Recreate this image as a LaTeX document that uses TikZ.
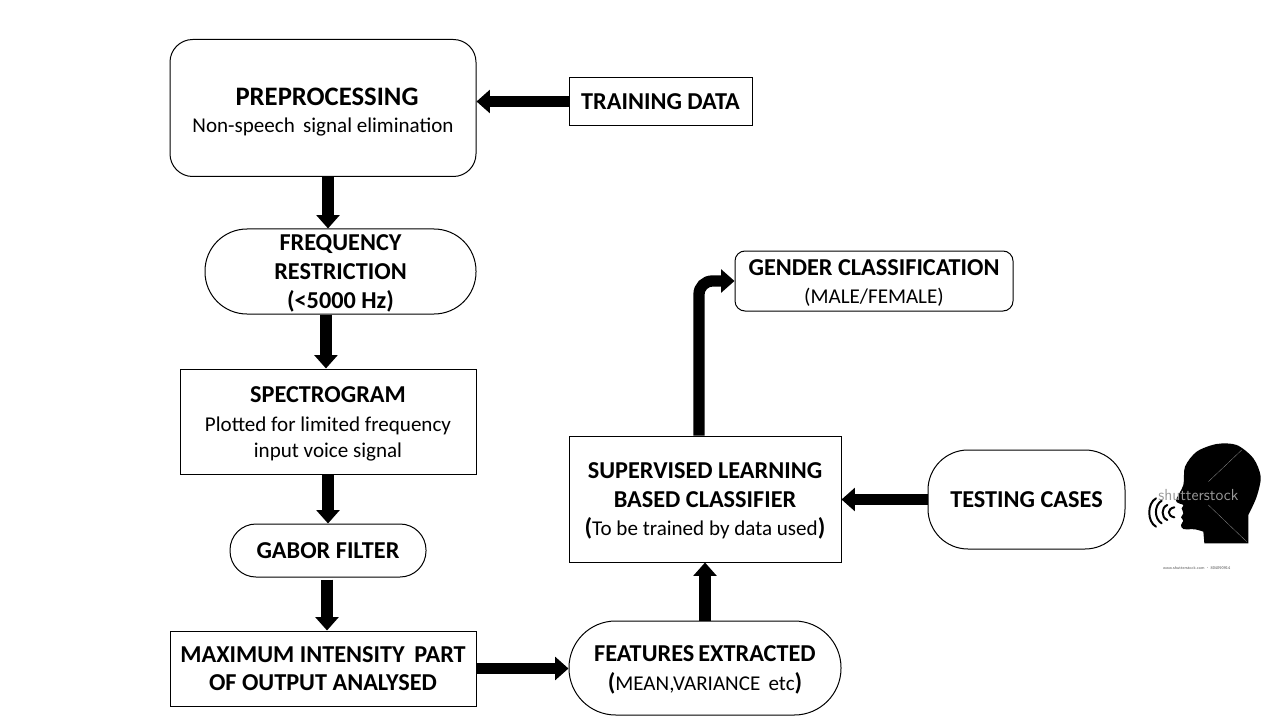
\documentclass[tikz,border=0pt]{standalone}
\usepackage{fontspec}
\setmainfont{Carlito}
\usetikzlibrary{arrows.meta}
\newcommand{\tfont}{\fontsize{18.2}{21.5}\selectfont\bfseries}
\newcommand{\sfont}{\fontsize{15.8}{21.5}\selectfont\mdseries}
\newcommand{\nudge}{\rule{0pt}{15pt}}
\tikzset{
  box/.style={draw, line width=0.75pt, align=center, inner sep=0pt, font=\tfont},
  bigarrow/.style={line width=8.5pt, -{Triangle[length=10pt,width=17pt]}},
  wave/.style={line width=1.5pt, line cap=round},
}
\begin{document}
\begin{tikzpicture}[x=0.75pt,y=-0.75pt]
  \useasboundingbox (0,0) rectangle (1280,720);
  % left column
  \node[box, name=prep, rounded corners=17pt, minimum width=229.5pt, minimum height=102.75pt] at (323,108)
    {\rule{0pt}{19pt}\hspace*{6pt}{\fontsize{20}{21.5}\selectfont PREPROCESSING}\\[-1pt]{\sfont Non-speech\, signal elimination}};
  \node[box, name=train, minimum width=137.25pt, minimum height=36pt] at (660.5,101.5) {TRAINING DATA};
  \node[box, name=freq, rounded corners=31.5pt, minimum width=203.25pt, minimum height=63.75pt] at (340.5,271.5)
    {\nudge FREQUENCY\\RESTRICTION\\(<5000 Hz)};
  \node[box, name=spec, minimum width=222pt, minimum height=78.75pt] at (328,421.5)
    {\nudge SPECTROGRAM\\{\sfont Plotted for limited frequency}\\[-2pt]{\sfont input voice signal}};
  \node[box, name=gabor, rounded corners=19.5pt, minimum width=147pt, minimum height=39.75pt] at (328,550.5) {GABOR FILTER};
  \node[box, name=maxp, minimum width=229.5pt, minimum height=56.25pt] at (323,668.5)
    {MAXIMUM INTENSITY\, PART\\OF OUTPUT ANALYSED};
  % right column
  \node[box, name=feat, rounded corners=35pt, minimum width=204pt, minimum height=70.5pt] at (705,668)
    {\nudge FEATURES\,EXTRACTED\\({\sfont MEAN,VARIANCE\, etc})};
  \node[box, name=sup, minimum width=204pt, minimum height=94.5pt] at (705,499)
    {\nudge SUPERVISED LEARNING\\BASED CLASSIFIER\\({\sfont To be trained by data used})};
  \node[box, name=test, rounded corners=30pt, minimum width=147.75pt, minimum height=74.25pt] at (1026.5,499.5) {TESTING CASES};
  \node[box, name=gender, rounded corners=7.5pt, minimum width=208.5pt, minimum height=45pt] at (874,281)
    {\nudge GENDER CLASSIFICATION\\[-1pt]{\sfont (MALE/FEMALE)}};
  % block arrows
  \draw[bigarrow] (train.west) -- (train.west -| prep.east);
  \draw[bigarrow] ([xshift=3.75pt]prep.south) -- ([xshift=3.75pt]prep.south |- freq.north);
  \draw[bigarrow] ([xshift=-10.9pt]freq.south) -- ([xshift=-10.9pt]freq.south |- spec.north);
  \draw[bigarrow] (spec.south) -- (gabor.north);
  \draw[bigarrow] ([yshift=-1.5pt,xshift=-0.75pt]gabor.south) -- ([xshift=-0.75pt]gabor.south |- maxp.north);
  \draw[bigarrow] (maxp.east) -- (maxp.east -| feat.west);
  \draw[bigarrow] (feat.north) -- (sup.south);
  \draw[bigarrow] (test.west) -- (test.west -| sup.east);
  \draw[bigarrow, rounded corners=10pt] ([xshift=-4.5pt]sup.north) |- (gender.west);
  % speaking head
  \begin{scope}[shift={(1120,430)},x=0.25pt,y=-0.25pt]
    \fill plot[smooth] coordinates {(250,305) (225,298) (190,297) (183,285) (190,272) (183,262) (190,250) (185,235) (190,225) (168,212) (190,165) (195,110) (230,65) (290,42) (350,45) (400,85) (422,140) (410,200) (385,255)} -- (385,340) -- (253,340) -- cycle;
    \draw[white!60!black, line width=0.2pt] (265,155) -- (365,60);
    \draw[white!60!black, line width=0.2pt] (265,225) -- (380,335);
    \draw[wave] (108,205) .. controls (81,220) and (81,275) .. (108,290);
    \draw[wave] (125,212) .. controls (102,225) and (102,267) .. (125,280);
    \draw[wave] (142,225) .. controls (123,232) and (123,263) .. (142,270);
    \draw[wave] (163,232) .. controls (141,236) and (141,258) .. (163,262);
    \node[name=mark, text=black!40, font=\fontsize{12}{12}\selectfont\sffamily] at (235,195) {shutterstock};
    \node[name=stock, font=\fontsize{3.1}{4}\selectfont\sffamily, text=black!70] at (230,415) {www.shutterstock.com $\cdot$ 804090914};
  \end{scope}
\end{tikzpicture}
\end{document}
